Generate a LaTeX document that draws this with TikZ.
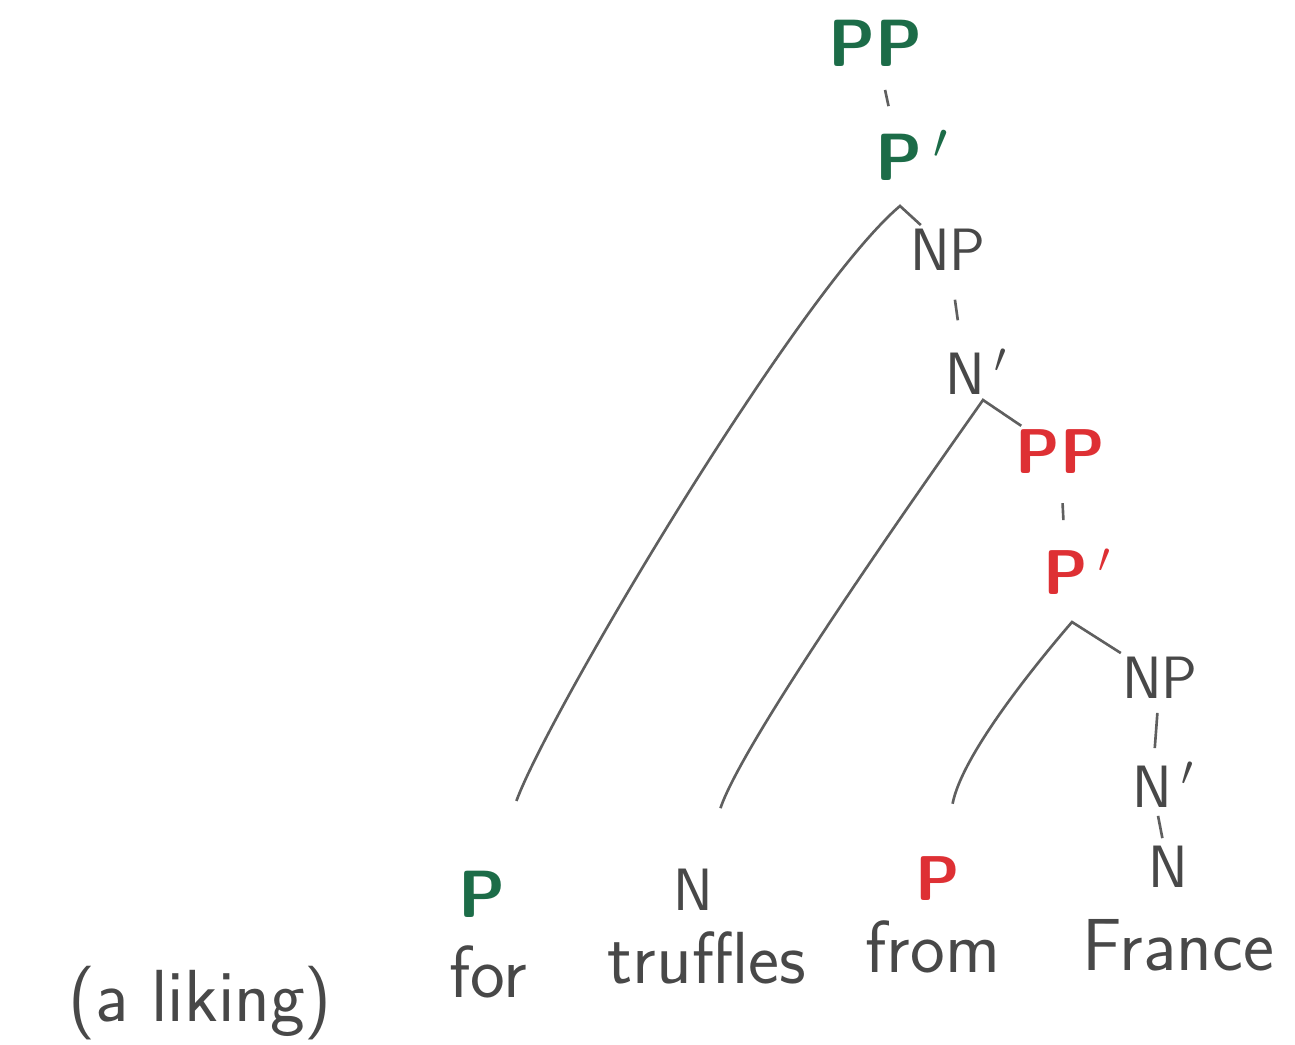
\documentclass[tikz,border=0pt]{standalone}
\usepackage{fontspec}
\usepackage{tikz}
\usetikzlibrary{positioning}
\definecolor{inkgreen}{RGB}{28,108,72}
\definecolor{inkred}{RGB}{222,48,52}
\definecolor{inkgray}{RGB}{72,72,72}
\definecolor{linegray}{RGB}{95,95,95}
\newcommand{\xbar}[1]{#1\rlap{\,$'$}}

\begin{document}
\begin{tikzpicture}[
  x=0.1mm, y=-0.1mm, font=\sffamily,
  lab/.style={inner sep=1pt,text=inkgray,font=\sffamily\fontsize{17}{20}\selectfont},
  grn/.style={lab,text=inkgreen,font=\sffamily\bfseries\fontsize{19}{22}\selectfont},
  rd/.style={lab,text=inkred,font=\sffamily\bfseries\fontsize{18}{21}\selectfont},
  word/.style={anchor=base,inner sep=0pt,text=inkgray,font=\sffamily\fontsize{21}{25}\selectfont},
  branch/.style={draw=linegray,line width=0.75pt},
  bar/.style={draw=linegray,line width=0.75pt}]
\useasboundingbox (0,0) rectangle (1295,1044);

\node[grn] (ppg) at (875,43) {PP};
\node[grn] (pbg) at (899,155) {\xbar{P}};
\node[lab] (np1) at (948,250) {NP};
\node[lab] (nb1) at (965,372) {\xbar{N}};
\node[rd] (ppr) at (1060,452) {PP};
\node[rd] (pbr) at (1066,572) {\xbar{P}};
\node[lab] (np2) at (1160,678) {NP};
\node[lab] (nb2) at (1152,785) {\xbar{N}};
\node[lab] (n2) at (1168,867) {N};

% leaves
\node[grn] (pg) at (482,894) {P};
\node[lab] (n1) at (693,890) {N};
\node[rd] (pr) at (938,879) {P};

\coordinate (c1) at (900,206);
\coordinate (c2) at (983,400);
\coordinate (c3) at (1072,622);

\node[word] (w1) at (200,1021) {(a liking)};
\node[word] (w2) at (488,997) {for};
\node[word] (w3) at (707,983) {truffles};
\node[word] (w4) at (933,972) {from};
\node[word] (w5) at (1178,970) {France};

\foreach \a/\b/\s in {ppg/pbg/2,np1/nb1/2.5,ppr/pbr/2.5,np2/nb2/1,nb2/n2/0.4}
  \draw[bar,shorten <=\s mm,shorten >=\s mm] (\a) -- (\b);
\draw[branch,shorten <=7mm] (pg) .. controls (550,710) and (800,290) .. (c1) -- (np1);
\draw[branch,shorten <=6mm] (n1) .. controls (745,735) and (948,450) .. (c2) -- (ppr);
\draw[branch,shorten <=5mm] (pr) .. controls (962,755) and (1035,665) .. (c3) -- (np2);
\end{tikzpicture}
\end{document}
